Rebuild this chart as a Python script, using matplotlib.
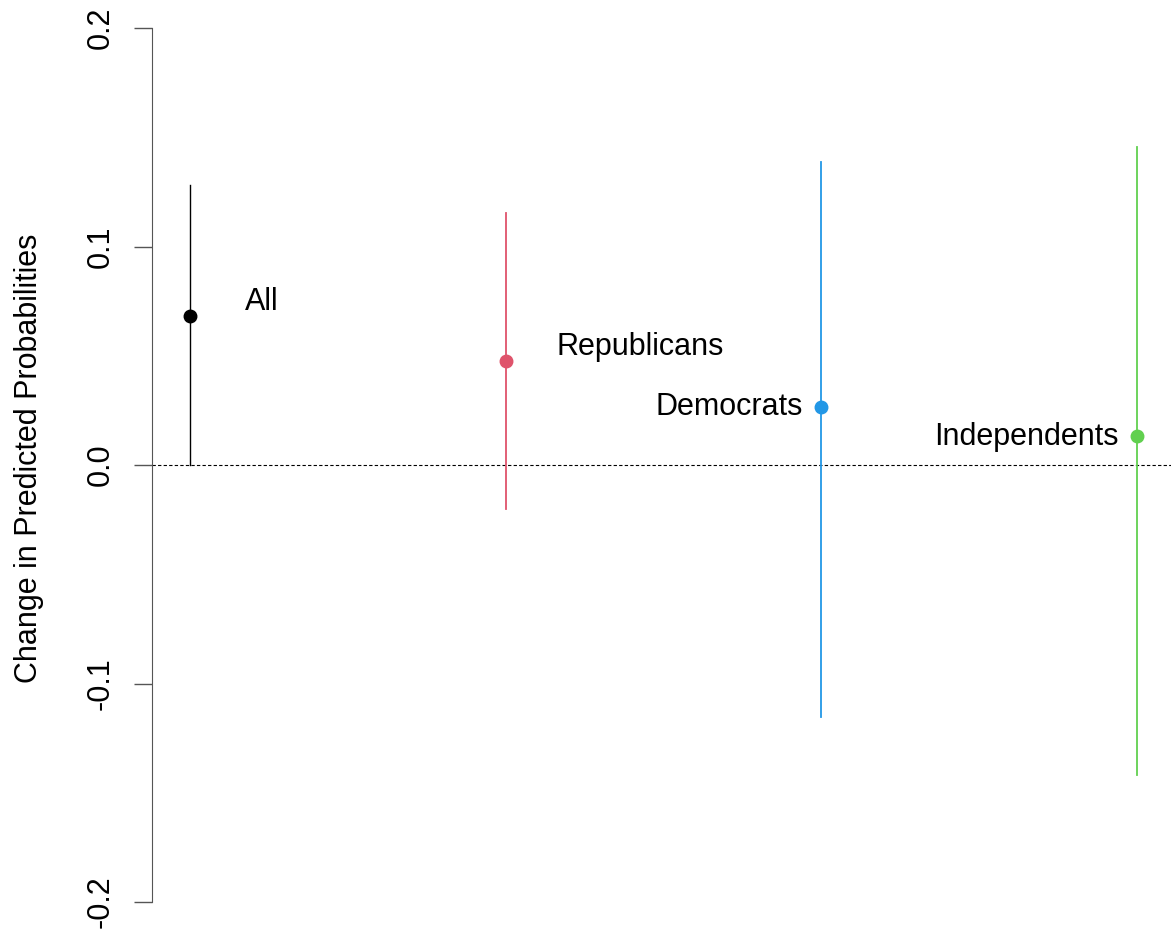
import numpy as np
import matplotlib.pyplot as plt

plt.rcParams['font.family'] = ['Liberation Sans', 'DejaVu Sans']

# data
groups = ['All', 'Republicans', 'Democrats', 'Independents']
est = [0.0682, 0.0476, 0.0265, 0.0133]
lower = [0.0, -0.0201, -0.1153, -0.1419]
upper = [0.128, 0.1153, 0.1387, 0.1455]
colors = ['black', '#DF536B', '#2297E6', '#61D04F']

x = np.arange(1, len(groups) + 1)

fig = plt.figure(figsize=(11.71, 9.34), dpi=100)
ax = fig.add_axes([152 / 1171, 0, 1 - 152 / 1171, 1])
ax.set_xlim(0.88, 4.108)
ax.set_ylim(-0.2146, 0.2128)

ax.axhline(0, color='black', linestyle=(0, (3, 2)), linewidth=0.8)

for i in range(len(groups)):
    ax.plot([x[i], x[i]], [lower[i], upper[i]], color=colors[i],
            linewidth=1.0 if i == 0 else 1.3)
    ax.plot(x[i], est[i], 'o', color=colors[i], markersize=9)

# label offsets (right of point for first two, left for the others)
offsets = [(0.174, 0.0027, 'left'), (0.162, 0.0027, 'left'),
           (-0.057, -0.0036, 'right'), (-0.057, -0.0041, 'right')]
for i, g in enumerate(groups):
    dx, dy, ha = offsets[i]
    ax.text(x[i] + dx, est[i] + dy, g, ha=ha, va='baseline', fontsize=22)

# R-style axis
for s in ['top', 'right', 'bottom']:
    ax.spines[s].set_visible(False)
ax.spines['left'].set_bounds(-0.2, 0.2)
ax.spines['left'].set_color('#555555')
ax.set_xticks([])
ax.set_yticks([-0.2, -0.1, 0.0, 0.1, 0.2])
ax.set_yticklabels(['-0.2', '-0.1', '0.0', '0.1', '0.2'], rotation=90,
                   va='center', fontsize=22)
ax.tick_params(axis='y', length=13, width=1, color='#555555', pad=13)
fig.text(44 / 1171, 1 - 458 / 934, 'Change in Predicted Probabilities',
         rotation=90, ha='right', va='center', fontsize=22)

fig.savefig('out.png', dpi=100)
